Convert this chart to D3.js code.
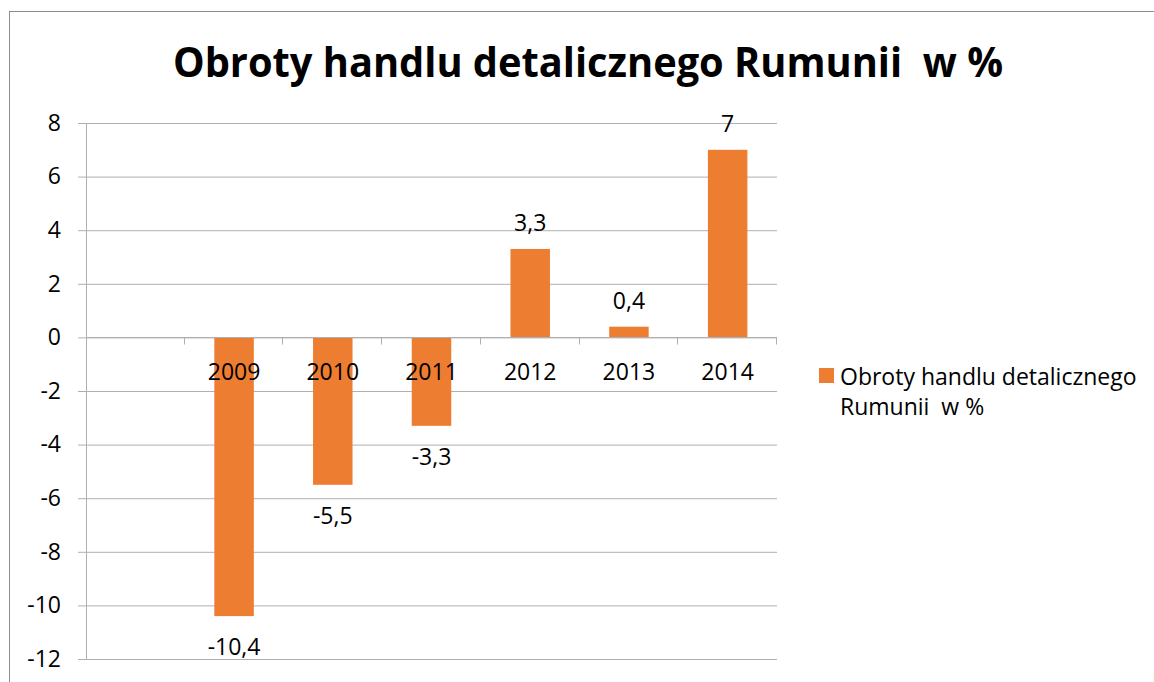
<!DOCTYPE html>
<html>
<head>
<meta charset="utf-8">
<script src="https://cdn.jsdelivr.net/npm/d3@7"></script>
<style>
  body { margin: 0; background: #fff; }
  svg text { font-family: 'Open Sans', sans-serif; fill: #000; }
</style>
</head>
<body>
<div id="chart"></div>
<script>
// chart data
var title = 'Obroty handlu detalicznego Rumunii\u00a0 w %';
var seriesName = ['Obroty handlu detalicznego', 'Rumunii\u00a0 w %'];
var categories = ['', '2009', '2010', '2011', '2012', '2013', '2014'];
var values = [null, -10.4, -5.5, -3.3, 3.3, 0.4, 7];
var valueLabels = ['', '-10,4', '-5,5', '-3,3', '3,3', '0,4', '7'];
var yTicks = [-12, -10, -8, -6, -4, -2, 0, 2, 4, 6, 8];

var W = 1154, H = 682;
var plot = { left: 86, right: 777, top: 123, bottom: 659 };
var barColor = '#ED7D31';
var gridColor = '#b0b0b0';

function drawChart () {
  var svg = d3.select('#chart').append('svg')
    .attr('width', W)
    .attr('height', H);

  // frame of the chart
  svg.append('rect')
    .attr('x', 9.5).attr('y', 11.5)
    .attr('width', W + 20).attr('height', H + 20)
    .attr('fill', 'none')
    .attr('stroke', '#8c8c8c');

  svg.append('text')
    .attr('x', 173).attr('y', 77)
    .attr('textLength', 830)
    .attr('lengthAdjust', 'spacingAndGlyphs')
    .style('font-size', '41px')
    .style('font-weight', 'bold')
    .text(title);

  var y = d3.scaleLinear().domain([-12, 8]).range([plot.bottom, plot.top]);
  var x = d3.scaleBand().domain(categories).range([plot.left, plot.right]).padding(0);
  var barW = x.step() * 0.4;

  // gridlines + left ticks
  var yAxis = d3.axisLeft(y)
    .tickValues(yTicks)
    .tickSize(plot.right - plot.left + 8)
    .tickPadding(17)
    .tickFormat(function (d) { return d; });
  var gy = svg.append('g')
    .attr('transform', 'translate(' + plot.right + ',0)')
    .call(yAxis);
  gy.select('.domain').remove();
  gy.selectAll('line').attr('stroke', gridColor);
  gy.selectAll('text').style('font-size', '23px').style('font-family', "'Open Sans', sans-serif");

  // vertical axis line
  svg.append('line')
    .attr('x1', plot.left + 0.5).attr('x2', plot.left + 0.5)
    .attr('y1', plot.top).attr('y2', plot.bottom)
    .attr('stroke', gridColor);

  // bars
  svg.selectAll('rect.bar')
    .data(values.map(function (v, i) { return { c: categories[i], v: v, l: valueLabels[i] }; })
      .filter(function (d) { return d.v !== null; }))
    .enter().append('rect')
    .attr('class', 'bar')
    .attr('x', function (d) { return x(d.c) + (x.step() - barW) / 2; })
    .attr('width', barW)
    .attr('y', function (d) { return y(Math.max(0, d.v)); })
    .attr('height', function (d) { return Math.abs(y(d.v) - y(0)); })
    .attr('fill', barColor);

  // category axis on zero line
  var y0 = Math.round(y(0)) + 0.5;
  svg.append('line')
    .attr('x1', plot.left).attr('x2', plot.right)
    .attr('y1', y0).attr('y2', y0)
    .attr('stroke', gridColor);
  var bounds = categories.slice(1).map(function (c) { return x(c); }).concat([plot.right]);
  svg.selectAll('line.xtick')
    .data(bounds)
    .enter().append('line')
    .attr('class', 'xtick')
    .attr('x1', function (d) { return Math.round(d) - 0.5; })
    .attr('x2', function (d) { return Math.round(d) - 0.5; })
    .attr('y1', y0).attr('y2', y0 + 7)
    .attr('stroke', gridColor);
  svg.selectAll('text.xlab')
    .data(categories)
    .enter().append('text')
    .attr('class', 'xlab')
    .attr('x', function (d) { return x(d) + x.step() / 2; })
    .attr('y', y0 + 42)
    .attr('text-anchor', 'middle')
    .style('font-size', '23px')
    .text(function (d) { return d; });

  // data labels
  svg.selectAll('text.vlab')
    .data(values.map(function (v, i) { return { c: categories[i], v: v, l: valueLabels[i] }; })
      .filter(function (d) { return d.v !== null; }))
    .enter().append('text')
    .attr('class', 'vlab')
    .attr('x', function (d) { return x(d.c) + x.step() / 2; })
    .attr('y', function (d) { return d.v >= 0 ? y(d.v) - 18 : y(d.v) + 39; })
    .attr('text-anchor', 'middle')
    .style('font-size', '23px')
    .text(function (d) { return d.l; });

  // legend
  svg.append('rect')
    .attr('x', 819).attr('y', 368)
    .attr('width', 15).attr('height', 15)
    .attr('fill', barColor);
  svg.selectAll('text.leg')
    .data(seriesName)
    .enter().append('text')
    .attr('class', 'leg')
    .attr('x', 840)
    .attr('y', function (d, i) { return 385 + i * 30; })
    .style('font-size', '23px')
    .text(function (d) { return d; });
}

window.addEventListener('load', function () {
  drawChart();
});
</script>
</body>
</html>
